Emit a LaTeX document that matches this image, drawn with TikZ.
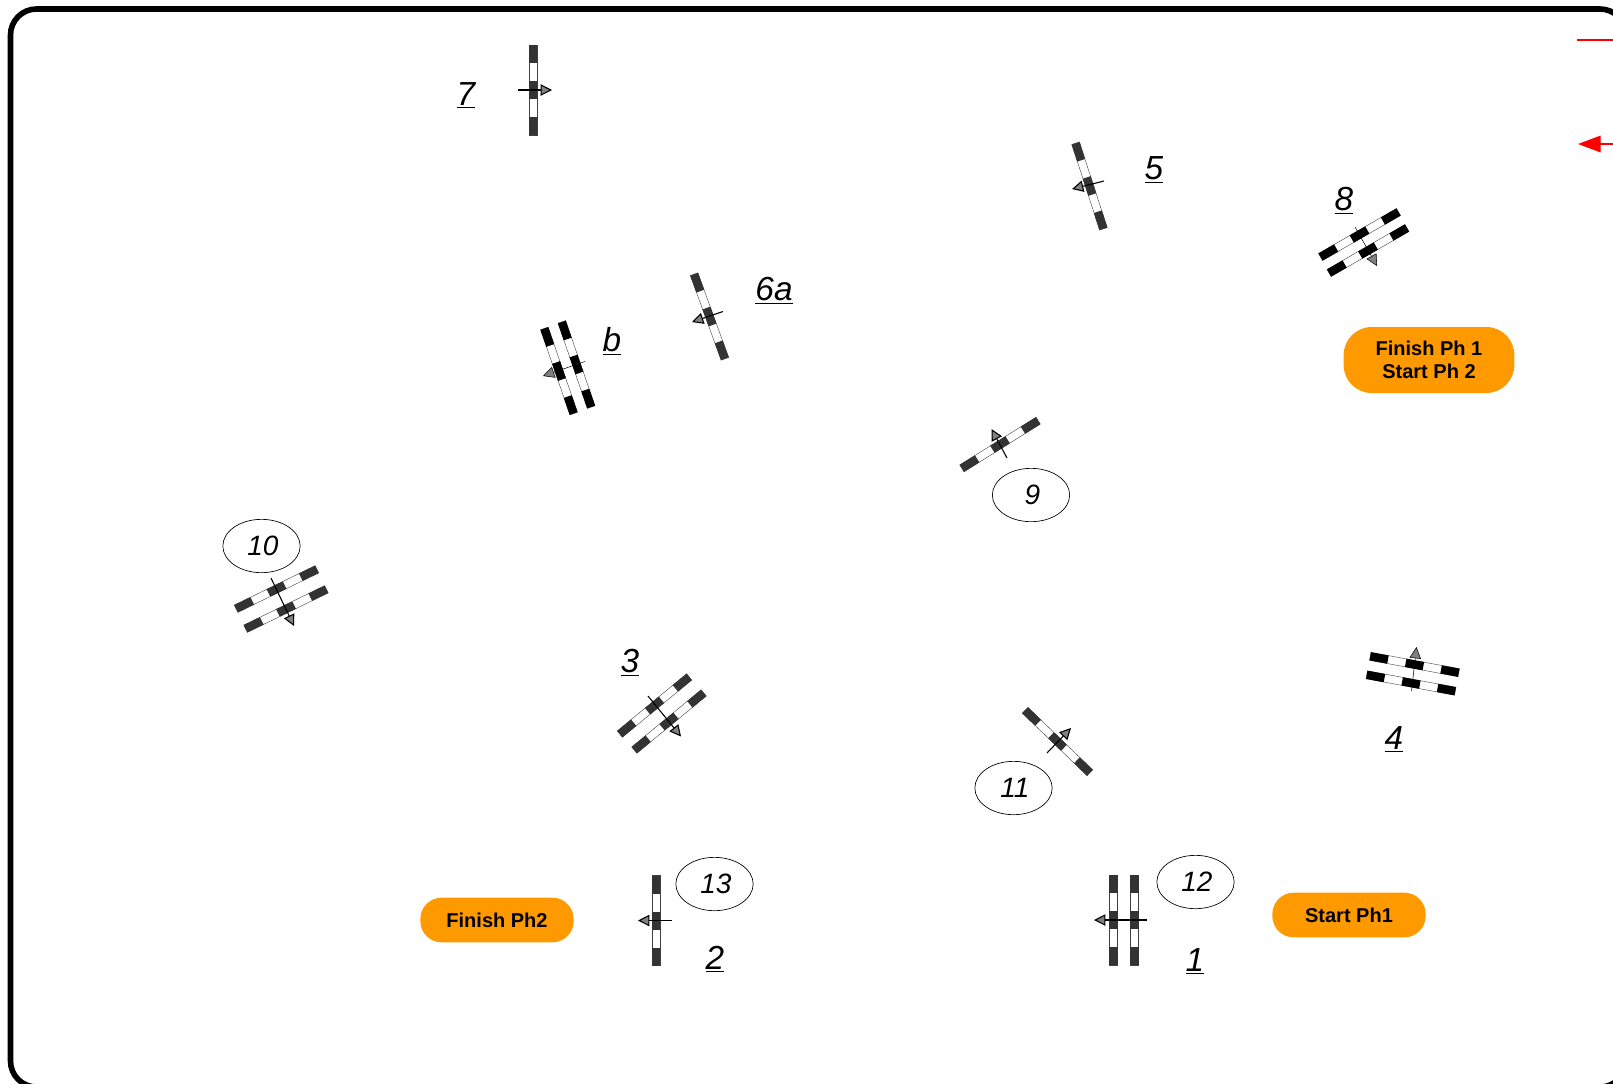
\documentclass[tikz,border=0pt]{standalone}
\usepackage{fontspec}
\setmainfont{Liberation Sans}
\usetikzlibrary{calc,arrows.meta,shapes.geometric}
\definecolor{darkbar}{HTML}{333333}
\definecolor{phase}{HTML}{FF9900}
\tikzset{
 pics/stopbar/.style={code={
  \draw[draw=darkgray,fill=white,line width=0.3pt] (-4,-45) rectangle (4,45);
  \fill[#1] (-4.2,-45) rectangle (4.2,-27); \fill[#1] (-4.2,-9) rectangle (4.2,9); \fill[#1] (-4.2,27) rectangle (4.2,45);
 }},
 flow/.style={line width=0.8pt,-{Triangle[length=8.5pt,width=8.5pt,fill=gray]}},
 flowthin/.style={flow,line width=0.4pt},
 num/.style={font=\itshape\fontsize{25}{25}\selectfont},
 oval/.style={draw,ellipse,line width=0.5pt,minimum width=58pt,minimum height=40pt,inner sep=0pt,font=\itshape\fontsize{21}{21}\selectfont},
 phasebox/.style={fill=phase,rounded corners=16pt,align=center,inner sep=0pt,font=\bfseries\fontsize{15}{17.5}\selectfont}
}
\begin{document}
\begin{tikzpicture}[x=0.75pt,y=-0.75pt]
 \useasboundingbox (0,0) rectangle (1613,1083);
 \draw[line width=4.2pt,rounded corners=19.5pt] (10.5,9) rectangle (1626,1087);
 % red key
 \coordinate (k1) at (1577,40); \coordinate (k2) at (1620,40); \coordinate (k3) at (1620,144); \coordinate (k4) at (1578,144);
 \draw[red,line width=0.8pt] (k1)--(k2);
 \draw[red,line width=0.8pt,-{Triangle[length=17pt,width=12.5pt]}] (k3)--(k4);
 % 7
 \pic at (533,90) {stopbar=darkbar};
 \coordinate (s7) at (518,90); \coordinate (t7) at (552,90); \draw[flow] (s7)--(t7);
 \node[num] (n7) at (466,95) {\underline{7}};
 % 5
 \pic[rotate=18] at (1089.5,186) {stopbar=darkbar};
 \coordinate (s5) at (1104,181); \coordinate (t5) at (1072,189); \draw[flow] (s5)--(t5);
 \node[num] (n5) at (1154,170) {\underline{5}};
 % 8
 \pic[rotate=-60] at (1359.5,234.5) {stopbar=black}; \pic[rotate=-60] at (1368,250.5) {stopbar=black};
 \coordinate (s8) at (1355,227); \coordinate (t8) at (1377,266); \draw[flowthin] (s8)--(t8);
 \node[num] (n8) at (1344,200.5) {\underline{8}};
 % 6a
 \pic[rotate=20] at (709.5,316.5) {stopbar=darkbar};
 \coordinate (s6) at (723,311.5); \coordinate (t6) at (692,322); \draw[flow] (s6)--(t6);
 \node[num] (n6) at (774,290.5) {\underline{6a}};
 % b
 \pic[rotate=19] at (559,371) {stopbar=black}; \pic[rotate=19] at (576.5,364.5) {stopbar=black};
 \coordinate (sb) at (585,361.5); \coordinate (tb) at (543,376); \draw[flowthin] (sb)--(tb);
 \node[num] (nb) at (612,341) {\underline{b}};
 % 9
 \pic[rotate=-58] at (1000,444.5) {stopbar=darkbar};
 \coordinate (s9) at (1007,458); \coordinate (t9) at (991.5,429); \draw[flow] (s9)--(t9);
 \node[oval] (o9) at (1031,495) {\hspace{2pt}9};
 % 10
 \pic[rotate=-64] at (276.5,589) {stopbar=darkbar}; \pic[rotate=-64] at (286,609) {stopbar=darkbar};
 \coordinate (s10) at (271,578); \coordinate (t10) at (294,626); \draw[flow] (s10)--(t10);
 \node[oval] (o10) at (261.5,546) {\hspace{2pt}10};
 % 3
 \pic[rotate=-50.5] at (654.5,705.5) {stopbar=darkbar}; \pic[rotate=-50.5] at (669,721.5) {stopbar=darkbar};
 \coordinate (s3) at (648,696); \coordinate (t3) at (681,736.5); \draw[flow] (s3)--(t3);
 \node[num] (n3) at (630,662.5) {\underline{3}};
 % 4
 \pic[rotate=79.5] at (1414.5,664.5) {stopbar=black}; \pic[rotate=79.5] at (1411,683) {stopbar=black};
 \coordinate (s4) at (1411.5,691); \coordinate (t4) at (1416.5,647); \draw[flowthin] (s4)--(t4);
 \node[num] (n4) at (1394,739.5) {\underline{4}};
 % 11
 \pic[rotate=46] at (1057.5,741.5) {stopbar=darkbar};
 \coordinate (s11) at (1047,753); \coordinate (t11) at (1071,728); \draw[flow] (s11)--(t11);
 \node[oval] (o11) at (1013.5,788) {\hspace{2pt}11};
 % 13 and 2
 \pic at (656,920.5) {stopbar=darkbar};
 \coordinate (s2) at (672,920.5); \coordinate (t2) at (638,920.5); \draw[flow] (s2)--(t2);
 \node[oval] (o13) at (714.5,884) {\hspace{2pt}13};
 \node[num] (n2) at (715,959.5) {\underline{2}};
 % 12 and 1
 \pic at (1113.5,920) {stopbar=darkbar}; \pic at (1134.5,920) {stopbar=darkbar};
 \coordinate (s1) at (1147,920); \coordinate (t1) at (1094,920); \draw[flow] (s1)--(t1);
 \node[oval] (o12) at (1195.5,882) {\hspace{2pt}12};
 \node[num] (n1) at (1195,961.5) {\underline{1}};
 % phases
 \node[phasebox,minimum width=115pt,minimum height=33.5pt] (ph1) at (1349,915) {Start Ph1};
 \node[phasebox,minimum width=115pt,minimum height=33.5pt] (ph2) at (497,920) {Finish Ph2};
 \node[phasebox,minimum width=128pt,minimum height=49.5pt,rounded corners=21pt] (ph12) at (1429,360) {Finish Ph 1\\Start Ph 2};
\end{tikzpicture}
\end{document}
